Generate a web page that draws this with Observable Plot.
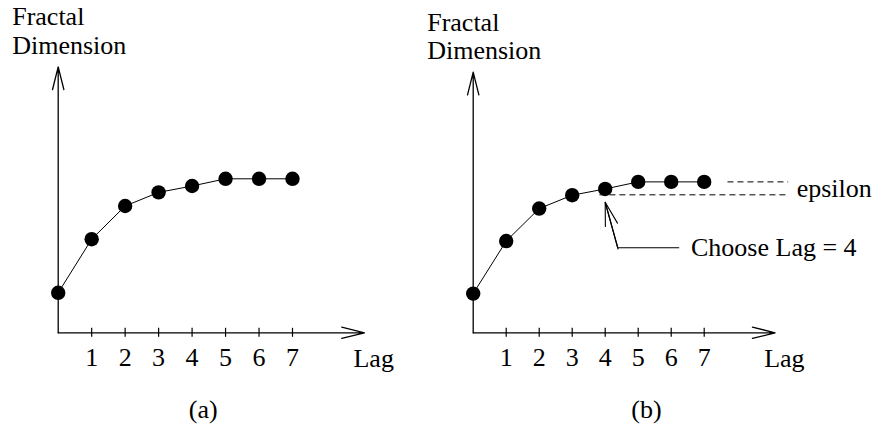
<!DOCTYPE html>
<html><head><meta charset="utf-8">
<script src="https://cdn.jsdelivr.net/npm/d3@7"></script>
<script src="https://cdn.jsdelivr.net/npm/@observablehq/plot@0.6"></script>
<style>
body{margin:0;background:#fff}
#fig{display:flex;width:875px;height:433px;overflow:hidden;background:#fff}
#fig svg{flex:none;max-width:none !important}
</style>
</head><body><div id="fig"></div>
<script>
// ---- data ----
const lags = [0, 1, 2, 3, 4, 5, 6, 7];
const fractalDim = [1.0, 2.34, 3.17, 3.51, 3.67, 3.85, 3.85, 3.85];
const tickLags = [1, 2, 3, 4, 5, 6, 7];
const tickLabels = ["1", "2", "3", "4", "5", "6", "7"];
const yLabel = "Fractal\nDimension";
const xLabel = "Lag";
const panelLabels = ["(a)", "(b)"];
const chosenLag = 4;
const plateau = 3.85;
const epsilon = 0.33;
const epsilonLabel = "epsilon";
const chooseLabel = "Choose Lag = 4";

// ---- derived table ----
const points = lags.map((lag, i) => ({lag, dim: fractalDim[i]}));

// ---- layout (data units) ----
const xEnd = 9.15, yEnd = 6.65;
const FONT = "'Liberation Serif', 'Times New Roman', Times, serif";
const FS = 26;

function panel({width, xRange, yRange, marginRight, label, extra}) {
  return Plot.plot({
    width, height: 433,
    marginLeft: 0, marginRight, marginTop: 0, marginBottom: 16,
    x: {domain: [0, 7], range: xRange, axis: null},
    y: {domain: [0, 1], range: yRange, axis: null},
    style: {fontFamily: FONT, fontSize: FS + "px", background: "white", color: "black", overflow: "visible"},
    marks: [
      Plot.arrow([{x1: 0, y1: 0, x2: 0, y2: yEnd}, {x1: 0, y1: 0, x2: xEnd, y2: 0}],
        {x1: "x1", y1: "y1", x2: "x2", y2: "y2", stroke: "black", strokeWidth: 1.3, headLength: 27, headAngle: 28}),
      Plot.ruleX(tickLags, {x: d => d, y1: 0, y2: 0, insetTop: -4.5, insetBottom: -4.5, stroke: "black", strokeWidth: 1.2}),
      Plot.text(tickLags, {x: d => d, y: 0, text: (d, i) => tickLabels[i], dy: 33.5, lineAnchor: "bottom",
        fontFamily: FONT, fontSize: FS, fill: "black"}),
      Plot.text([xLabel], {x: xEnd, y: 0, text: d => d, dx: -11, dy: 34, textAnchor: "start", lineAnchor: "bottom",
        fontFamily: FONT, fontSize: FS, fill: "black"}),
      Plot.text([yLabel], {x: 0, y: yEnd, text: d => d, dx: -46, dy: -13, textAnchor: "start", lineAnchor: "bottom",
        lineHeight: 1.09, fontFamily: FONT, fontSize: FS, fill: "black"}),
      Plot.line(points, {x: "lag", y: "dim", stroke: "black", strokeWidth: 1}),
      Plot.dot(points, {x: "lag", y: "dim", r: 7.2, fill: "black", stroke: "none"}),
      ...(extra || []),
      Plot.text([label], {text: d => d, frameAnchor: "bottom", lineAnchor: "bottom",
        fontFamily: FONT, fontSize: FS, fill: "black"})
    ]
  });
}

// annotation geometry for panel (b), in data units
const tip = {x: chosenLag, y: 3.33};
const elbow = {x: 4.38, y: 2.17};
const lineEndX = 6.23, labelX = 6.6;
const ext = 0.6;
const start = {x: elbow.x + ext * (elbow.x - tip.x), y: elbow.y + ext * (elbow.y - tip.y)};

const annotations = [
  Plot.ruleY([
    {y: plateau, x1: 7.72, x2: 9.56},
    {y: plateau - epsilon, x1: 3.84, x2: 9.56}
  ], {y: "y", x1: "x1", x2: "x2", stroke: "black", strokeWidth: 1, strokeDasharray: "6,4"}),
  Plot.text([epsilonLabel], {x: 9.56, y: plateau - epsilon / 2, text: d => d, dx: 8, textAnchor: "start",
    lineAnchor: "middle", fontFamily: FONT, fontSize: FS, fill: "black"}),
  Plot.line([{x: lineEndX, y: elbow.y}, elbow, tip], {x: "x", y: "y", stroke: "black", strokeWidth: 1.1}),
  Plot.arrow([{x1: start.x, y1: start.y, x2: tip.x, y2: tip.y}],
    {x1: "x1", y1: "y1", x2: "x2", y2: "y2", insetStart: 27, stroke: "black", strokeWidth: 1.1, headLength: 33, headAngle: 30}),
  Plot.text([chooseLabel], {x: labelX, y: elbow.y, text: d => d, textAnchor: "start", lineAnchor: "middle",
    fontFamily: FONT, fontSize: FS, fill: "black"})
];

const a = panel({width: 420, xRange: [57.7, 292], yRange: [332.3, 292.3], marginRight: 14.6, label: panelLabels[0]});
const b = panel({width: 455, xRange: [52.7, 283.7], yRange: [332.3, 293.1], marginRight: 3, label: panelLabels[1], extra: annotations});
document.getElementById("fig").append(a, b);
</script>
</body></html>
